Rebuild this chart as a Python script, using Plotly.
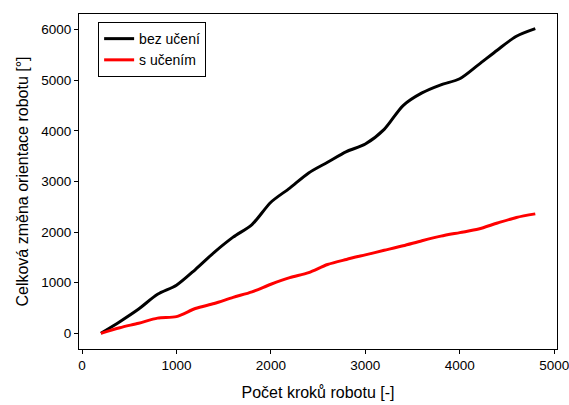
import plotly.graph_objects as go

steps = [200, 400, 600, 800, 1000, 1200, 1400, 1600, 1800, 2000, 2200, 2400,
         2600, 2800, 3000, 3200, 3400, 3600, 3800, 4000, 4200, 4400, 4600, 4800]
bez_uceni = [0, 230, 480, 770, 950, 1260, 1600, 1900, 2150, 2590, 2870, 3170,
             3380, 3590, 3740, 4030, 4500, 4750, 4910, 5030, 5310, 5600, 5870, 6020]
s_ucenim = [0, 110, 200, 300, 330, 490, 590, 710, 820, 970, 1100, 1200,
            1360, 1460, 1550, 1640, 1730, 1830, 1920, 1990, 2060, 2180, 2290, 2360]

x_ticks = [0, 1000, 2000, 3000, 4000, 5000]
y_ticks = [0, 1000, 2000, 3000, 4000, 5000, 6000]

fig = go.Figure()
fig.add_trace(go.Scatter(x=steps, y=bez_uceni, mode="lines", name="bez učení",
                         line=dict(color="black", width=3, shape="spline", smoothing=0.8)))
fig.add_trace(go.Scatter(x=steps, y=s_ucenim, mode="lines", name="s učením",
                         line=dict(color="#ff0000", width=3, shape="spline", smoothing=0.8)))

font_family = "Liberation Sans, Arial, sans-serif"
fig.update_layout(
    width=569, height=405,
    margin=dict(l=79, r=12, t=14, b=56),
    paper_bgcolor="white", plot_bgcolor="white",
    font=dict(family=font_family, size=13.5, color="black"),
    showlegend=True,
    legend=dict(x=0.04, y=0.976, xanchor="left", yanchor="top",
                bordercolor="black", borderwidth=1, bgcolor="white",
                font=dict(size=14), tracegroupgap=0, itemwidth=30),
    xaxis=dict(range=[-32, 5030], tickvals=x_ticks, showgrid=False, zeroline=False,
               showline=True, linecolor="black", linewidth=1, mirror=True,
               ticks="outside", ticklen=4, tickcolor="black", automargin=False,
               ticklabeloverflow="allow",
               title=dict(text="Počet kroků robotu [-]", font=dict(size=16), standoff=14)),
    yaxis=dict(range=[-310, 6310], tickvals=y_ticks, showgrid=False, zeroline=False,
               showline=True, linecolor="black", linewidth=1, mirror=True,
               ticks="outside", ticklen=4, tickcolor="black", automargin=False,
               title=dict(text="Celková změna orientace robotu [°]", font=dict(size=16), standoff=8)),
)

fig.write_html("out.html", config={"displayModeBar": False},
               post_script="document.body.style.margin='0';document.body.style.padding='0';")
